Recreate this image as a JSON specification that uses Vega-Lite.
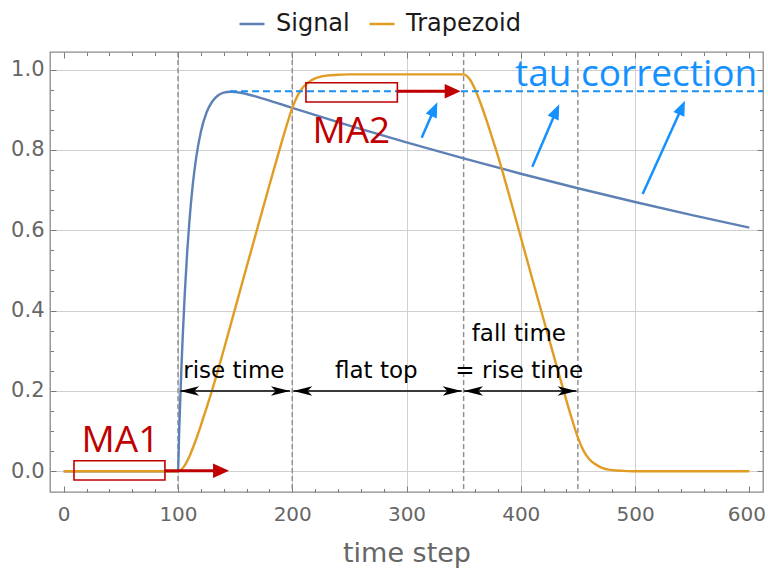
{
  "$schema": "https://vega.github.io/schema/vega-lite/v6.json",
  "autosize": {"type": "none"},
  "width": 713,
  "height": 440,
  "padding": {"left": 50, "top": 52, "right": 5, "bottom": 79},
  "background": "white",
  "config": {
    "view": {"stroke": "#8a8a8a", "strokeWidth": 1.3},
    "font": "DejaVu Sans"
  },
  "datasets": {
    "curves": [
      {"t": 0, "v": 0, "series": "Signal"},
      {"t": 100, "v": 0, "series": "Signal"},
      {"t": 101, "v": 0.0942, "series": "Signal"},
      {"t": 102, "v": 0.1793, "series": "Signal"},
      {"t": 103, "v": 0.2562, "series": "Signal"},
      {"t": 104, "v": 0.3257, "series": "Signal"},
      {"t": 106, "v": 0.4452, "series": "Signal"},
      {"t": 108, "v": 0.5427, "series": "Signal"},
      {"t": 110, "v": 0.6221, "series": "Signal"},
      {"t": 113, "v": 0.7146, "series": "Signal"},
      {"t": 116, "v": 0.7822, "series": "Signal"},
      {"t": 120, "v": 0.8449, "series": "Signal"},
      {"t": 125, "v": 0.8932, "series": "Signal"},
      {"t": 130, "v": 0.9206, "series": "Signal"},
      {"t": 135, "v": 0.9354, "series": "Signal"},
      {"t": 140, "v": 0.9425, "series": "Signal"},
      {"t": 146, "v": 0.9449, "series": "Signal"},
      {"t": 155, "v": 0.9424, "series": "Signal"},
      {"t": 170, "v": 0.9315, "series": "Signal"},
      {"t": 185, "v": 0.9183, "series": "Signal"},
      {"t": 200, "v": 0.9048, "series": "Signal"},
      {"t": 250, "v": 0.8607, "series": "Signal"},
      {"t": 300, "v": 0.8187, "series": "Signal"},
      {"t": 350, "v": 0.7788, "series": "Signal"},
      {"t": 400, "v": 0.7408, "series": "Signal"},
      {"t": 450, "v": 0.7047, "series": "Signal"},
      {"t": 500, "v": 0.6703, "series": "Signal"},
      {"t": 550, "v": 0.6376, "series": "Signal"},
      {"t": 600, "v": 0.6065, "series": "Signal"},
      {"t": 0, "v": 0, "series": "Trapezoid"},
      {"t": 100, "v": 0, "series": "Trapezoid"},
      {"t": 105, "v": 0.011, "series": "Trapezoid"},
      {"t": 110, "v": 0.037, "series": "Trapezoid"},
      {"t": 115, "v": 0.073, "series": "Trapezoid"},
      {"t": 120, "v": 0.114, "series": "Trapezoid"},
      {"t": 125, "v": 0.158, "series": "Trapezoid"},
      {"t": 130, "v": 0.203, "series": "Trapezoid"},
      {"t": 140, "v": 0.302, "series": "Trapezoid"},
      {"t": 150, "v": 0.405, "series": "Trapezoid"},
      {"t": 160, "v": 0.508, "series": "Trapezoid"},
      {"t": 170, "v": 0.61, "series": "Trapezoid"},
      {"t": 180, "v": 0.712, "series": "Trapezoid"},
      {"t": 190, "v": 0.812, "series": "Trapezoid"},
      {"t": 195, "v": 0.86, "series": "Trapezoid"},
      {"t": 200, "v": 0.904, "series": "Trapezoid"},
      {"t": 205, "v": 0.937, "series": "Trapezoid"},
      {"t": 210, "v": 0.958, "series": "Trapezoid"},
      {"t": 215, "v": 0.97, "series": "Trapezoid"},
      {"t": 220, "v": 0.978, "series": "Trapezoid"},
      {"t": 230, "v": 0.985, "series": "Trapezoid"},
      {"t": 240, "v": 0.987, "series": "Trapezoid"},
      {"t": 250, "v": 0.988, "series": "Trapezoid"},
      {"t": 350, "v": 0.988, "series": "Trapezoid"},
      {"t": 355, "v": 0.977, "series": "Trapezoid"},
      {"t": 360, "v": 0.951, "series": "Trapezoid"},
      {"t": 365, "v": 0.915, "series": "Trapezoid"},
      {"t": 370, "v": 0.874, "series": "Trapezoid"},
      {"t": 375, "v": 0.83, "series": "Trapezoid"},
      {"t": 380, "v": 0.785, "series": "Trapezoid"},
      {"t": 390, "v": 0.686, "series": "Trapezoid"},
      {"t": 400, "v": 0.583, "series": "Trapezoid"},
      {"t": 410, "v": 0.48, "series": "Trapezoid"},
      {"t": 420, "v": 0.378, "series": "Trapezoid"},
      {"t": 430, "v": 0.276, "series": "Trapezoid"},
      {"t": 440, "v": 0.176, "series": "Trapezoid"},
      {"t": 445, "v": 0.128, "series": "Trapezoid"},
      {"t": 450, "v": 0.084, "series": "Trapezoid"},
      {"t": 455, "v": 0.051, "series": "Trapezoid"},
      {"t": 460, "v": 0.03, "series": "Trapezoid"},
      {"t": 465, "v": 0.018, "series": "Trapezoid"},
      {"t": 470, "v": 0.01, "series": "Trapezoid"},
      {"t": 480, "v": 0.003, "series": "Trapezoid"},
      {"t": 490, "v": 0.001, "series": "Trapezoid"},
      {"t": 500, "v": 0, "series": "Trapezoid"},
      {"t": 600, "v": 0, "series": "Trapezoid"}
    ],
    "phases": [{"t": 100}, {"t": 200}, {"t": 350}, {"t": 450}],
    "tau_level": [{"t0": 145.5, "t1": 612, "v": 0.946}],
    "windows": [
      {"t0": 9, "t1": 88.6, "v0": -0.0217, "v1": 0.0264},
      {"t0": 212, "t1": 292, "v0": 0.9193, "v1": 0.9674}
    ],
    "window_moves": [
      {"t0": 88.6, "t1": 137.7, "tip": 144.7, "v": 0.0015},
      {"t0": 292, "t1": 340.4, "tip": 347.4, "v": 0.946}
    ],
    "tau_arrows": [
      {"t0": 313.3, "v0": 0.8305, "t1": 324.1, "v1": 0.9004, "tt": 327.0, "tv": 0.9186},
      {"t0": 410.1, "v0": 0.7583, "t1": 430.8, "v1": 0.8954, "tt": 433.7, "tv": 0.9136},
      {"t0": 506.7, "v0": 0.6903, "t1": 540.8, "v1": 0.9044, "tt": 543.7, "tv": 0.9226}
    ],
    "spans": [
      {"a": 101.8, "b": 198, "v": 0.2},
      {"a": 200.9, "b": 348.3, "v": 0.2},
      {"a": 350.3, "b": 448.9, "v": 0.2}
    ],
    "span_labels": [
      {"t": 148.9, "v": 0.2315, "text": "rise time"},
      {"t": 273.6, "v": 0.2315, "text": "flat top"},
      {"t": 398.3, "v": 0.3251, "text": "fall time"},
      {"t": 398.7, "v": 0.2315, "text": "= rise time"}
    ],
    "ma_labels": [
      {"t": 49.7, "v": 0.0488, "text": "MA1"},
      {"t": 251.7, "v": 0.818, "text": "MA2"}
    ],
    "tau_label": [{"t": 501, "v": 0.9592, "text": "tau correction"}],
    "frame": [{"t": 0, "v": 0}]
  },
  "resolve": {
    "scale": {"x": "independent", "y": "independent"},
    "axis": {"x": "independent", "y": "independent"}
  },
  "layer": [
    {
      "layer": [
        {
          "data": {"name": "phases"},
          "mark": {"type": "rule", "color": "#8c8c8c", "strokeWidth": 1.4, "strokeDash": [5, 3]},
          "encoding": {
            "x": {
              "field": "t", "type": "quantitative",
              "scale": {"domain": [-12, 612], "nice": false, "zero": false},
              "axis": {
                "orient": "bottom", "title": "time step",
                "values": [0, 100, 200, 300, 400, 500, 600],
                "ticks": false, "domain": false,
                "grid": true, "gridColor": "#d0d0d0", "gridWidth": 1,
                "gridOpacity": {"condition": {"test": "datum.value > 0 && datum.value < 600", "value": 1}, "value": 0},
                "labelFont": "DejaVu Sans", "labelFontSize": 20, "labelColor": "#666666",
                "labelPadding": 12, "labelFlush": false,
                "labelOffset": {"condition": {"test": "datum.value === 600", "value": -3}, "value": 0},
                "titleFont": "DejaVu Sans", "titleFontSize": 27, "titleFontWeight": "normal",
                "titleColor": "#666666", "titlePadding": 16
              }
            }
          }
        },
        {
          "data": {"name": "curves"},
          "mark": {"type": "line", "strokeWidth": 2.4, "interpolate": "monotone"},
          "encoding": {
            "x": {"field": "t", "type": "quantitative"},
            "y": {
              "field": "v", "type": "quantitative",
              "scale": {"domain": [-0.0515, 1.0438], "nice": false, "zero": false},
              "axis": {
                "orient": "left", "title": null,
                "values": [0, 0.2, 0.4, 0.6, 0.8, 1.0], "format": ".1f",
                "ticks": false, "domain": false,
                "grid": true, "gridColor": "#d0d0d0", "gridWidth": 1,
                "labelFont": "DejaVu Sans", "labelFontSize": 21, "labelColor": "#666666",
                "labelPadding": 6
              }
            },
            "color": {
              "field": "series", "type": "nominal",
              "scale": {"domain": ["Signal", "Trapezoid"], "range": ["#5E81B5", "#E19C24"]},
              "legend": {
                "title": null, "orient": "none", "direction": "horizontal",
                "legendX": 188, "legendY": -42, "padding": 0,
                "symbolType": "stroke", "symbolSize": 625, "symbolStrokeWidth": 2.5,
                "labelFont": "DejaVu Sans", "labelFontSize": 24, "labelColor": "#1a1a1a",
                "labelOffset": 10, "columnPadding": 14
              }
            }
          }
        },
        {
          "data": {"name": "tau_level"},
          "mark": {"type": "rule", "color": "#1C8EF0", "strokeWidth": 2, "strokeDash": [7, 4]},
          "encoding": {
            "x": {"field": "t0", "type": "quantitative"},
            "x2": {"field": "t1"},
            "y": {"field": "v", "type": "quantitative"}
          }
        },
        {
          "data": {"name": "windows"},
          "mark": {"type": "rect", "fillOpacity": 0, "stroke": "#C00000", "strokeWidth": 1.6},
          "encoding": {
            "x": {"field": "t0", "type": "quantitative"},
            "x2": {"field": "t1"},
            "y": {"field": "v0", "type": "quantitative"},
            "y2": {"field": "v1"}
          }
        },
        {
          "data": {"name": "window_moves"},
          "mark": {"type": "rule", "color": "#C00000", "strokeWidth": 3},
          "encoding": {
            "x": {"field": "t0", "type": "quantitative"},
            "x2": {"field": "t1"},
            "y": {"field": "v", "type": "quantitative"}
          }
        },
        {
          "data": {"name": "window_moves"},
          "mark": {"type": "point", "shape": "M 0 0 L -2 -0.9 L -2 0.9 Z", "size": 256, "filled": true, "color": "#C00000", "opacity": 1, "angle": 0},
          "encoding": {
            "x": {"field": "tip", "type": "quantitative"},
            "y": {"field": "v", "type": "quantitative"}
          }
        },
        {
          "data": {"name": "spans"},
          "mark": {"type": "rule", "color": "#3a3a3a", "strokeWidth": 2},
          "encoding": {
            "x": {"field": "a", "type": "quantitative"},
            "x2": {"field": "b"},
            "y": {"field": "v", "type": "quantitative"}
          }
        },
        {
          "data": {"name": "spans"},
          "mark": {"type": "point", "shape": "M 0 0 L -2 -0.5 L -1.5 0 L -2 0.5 Z", "size": 361, "filled": true, "color": "#000000", "opacity": 1, "angle": 180},
          "encoding": {
            "x": {"field": "a", "type": "quantitative"},
            "y": {"field": "v", "type": "quantitative"}
          }
        },
        {
          "data": {"name": "spans"},
          "mark": {"type": "point", "shape": "M 0 0 L -2 -0.5 L -1.5 0 L -2 0.5 Z", "size": 361, "filled": true, "color": "#000000", "opacity": 1, "angle": 0},
          "encoding": {
            "x": {"field": "b", "type": "quantitative"},
            "y": {"field": "v", "type": "quantitative"}
          }
        },
        {
          "data": {"name": "span_labels"},
          "mark": {"type": "text", "font": "DejaVu Sans", "fontSize": 23, "color": "#000000", "align": "center", "baseline": "alphabetic"},
          "encoding": {
            "x": {"field": "t", "type": "quantitative"},
            "y": {"field": "v", "type": "quantitative"},
            "text": {"field": "text"}
          }
        },
        {
          "data": {"name": "tau_arrows"},
          "mark": {"type": "rule", "color": "#1591FF", "strokeWidth": 2.5},
          "encoding": {
            "x": {"field": "t0", "type": "quantitative"},
            "x2": {"field": "t1"},
            "y": {"field": "v0", "type": "quantitative"},
            "y2": {"field": "v1"}
          }
        },
        {
          "data": {"name": "tau_arrows"},
          "mark": {"type": "point", "shape": "M 0 0 L -2 -0.8 L -2 0.8 Z", "size": 225, "filled": true, "color": "#1591FF", "opacity": 1, "angle": -66},
          "encoding": {
            "x": {"field": "tt", "type": "quantitative"},
            "y": {"field": "tv", "type": "quantitative"}
          }
        },
        {
          "data": {"name": "ma_labels"},
          "mark": {"type": "text", "font": "Open Sans", "fontSize": 37, "color": "#C00000", "align": "center", "baseline": "alphabetic"},
          "encoding": {
            "x": {"field": "t", "type": "quantitative"},
            "y": {"field": "v", "type": "quantitative"},
            "text": {"field": "text"}
          }
        },
        {
          "data": {"name": "tau_label"},
          "mark": {"type": "text", "font": "Open Sans", "fontSize": 37, "color": "#1591FF", "align": "center", "baseline": "alphabetic"},
          "encoding": {
            "x": {"field": "t", "type": "quantitative"},
            "y": {"field": "v", "type": "quantitative"},
            "text": {"field": "text"}
          }
        }
      ]
    },
    {
      "data": {"name": "frame"},
      "mark": {"type": "point", "opacity": 0},
      "encoding": {
        "x": {
          "field": "t", "type": "quantitative",
          "scale": {"domain": [-12, 612], "nice": false, "zero": false},
          "axis": {
            "orient": "bottom", "title": null, "labels": false, "domain": false, "grid": false,
            "values": [0, 100, 200, 300, 400, 500, 600],
            "tickColor": "#7a7a7a", "tickWidth": 1, "tickSize": -6
          }
        },
        "y": {
          "field": "v", "type": "quantitative",
          "scale": {"domain": [-0.0515, 1.0438], "nice": false, "zero": false},
          "axis": {
            "orient": "left", "title": null, "labels": false, "domain": false, "grid": false,
            "values": [0, 0.2, 0.4, 0.6, 0.8, 1.0],
            "tickColor": "#7a7a7a", "tickWidth": 1, "tickSize": -6
          }
        }
      }
    },
    {
      "data": {"name": "frame"},
      "mark": {"type": "point", "opacity": 0},
      "encoding": {
        "x": {
          "field": "t", "type": "quantitative",
          "scale": {"domain": [-12, 612], "nice": false, "zero": false},
          "axis": {
            "orient": "bottom", "title": null, "labels": false, "domain": false, "grid": false,
            "values": [20, 40, 60, 80, 120, 140, 160, 180, 220, 240, 260, 280, 320, 340, 360, 380, 420, 440, 460, 480, 520, 540, 560, 580],
            "tickColor": "#7a7a7a", "tickWidth": 1, "tickSize": -3.5
          }
        },
        "y": {
          "field": "v", "type": "quantitative",
          "scale": {"domain": [-0.0515, 1.0438], "nice": false, "zero": false},
          "axis": {
            "orient": "left", "title": null, "labels": false, "domain": false, "grid": false,
            "values": [0.05, 0.1, 0.15, 0.25, 0.3, 0.35, 0.45, 0.5, 0.55, 0.65, 0.7, 0.75, 0.85, 0.9, 0.95],
            "tickColor": "#7a7a7a", "tickWidth": 1, "tickSize": -3.5
          }
        }
      }
    },
    {
      "data": {"name": "frame"},
      "mark": {"type": "point", "opacity": 0},
      "encoding": {
        "x": {
          "field": "t", "type": "quantitative",
          "scale": {"domain": [-12, 612], "nice": false, "zero": false},
          "axis": {
            "orient": "top", "title": null, "labels": false, "domain": false, "grid": false,
            "values": [0, 100, 200, 300, 400, 500, 600],
            "tickColor": "#7a7a7a", "tickWidth": 1, "tickSize": -6
          }
        },
        "y": {
          "field": "v", "type": "quantitative",
          "scale": {"domain": [-0.0515, 1.0438], "nice": false, "zero": false},
          "axis": {
            "orient": "right", "title": null, "labels": false, "domain": false, "grid": false,
            "values": [0, 0.2, 0.4, 0.6, 0.8, 1.0],
            "tickColor": "#7a7a7a", "tickWidth": 1, "tickSize": -6
          }
        }
      }
    },
    {
      "data": {"name": "frame"},
      "mark": {"type": "point", "opacity": 0},
      "encoding": {
        "x": {
          "field": "t", "type": "quantitative",
          "scale": {"domain": [-12, 612], "nice": false, "zero": false},
          "axis": {
            "orient": "top", "title": null, "labels": false, "domain": false, "grid": false,
            "values": [20, 40, 60, 80, 120, 140, 160, 180, 220, 240, 260, 280, 320, 340, 360, 380, 420, 440, 460, 480, 520, 540, 560, 580],
            "tickColor": "#7a7a7a", "tickWidth": 1, "tickSize": -3.5
          }
        },
        "y": {
          "field": "v", "type": "quantitative",
          "scale": {"domain": [-0.0515, 1.0438], "nice": false, "zero": false},
          "axis": {
            "orient": "right", "title": null, "labels": false, "domain": false, "grid": false,
            "values": [0.05, 0.1, 0.15, 0.25, 0.3, 0.35, 0.45, 0.5, 0.55, 0.65, 0.7, 0.75, 0.85, 0.9, 0.95],
            "tickColor": "#7a7a7a", "tickWidth": 1, "tickSize": -3.5
          }
        }
      }
    }
  ]
}
